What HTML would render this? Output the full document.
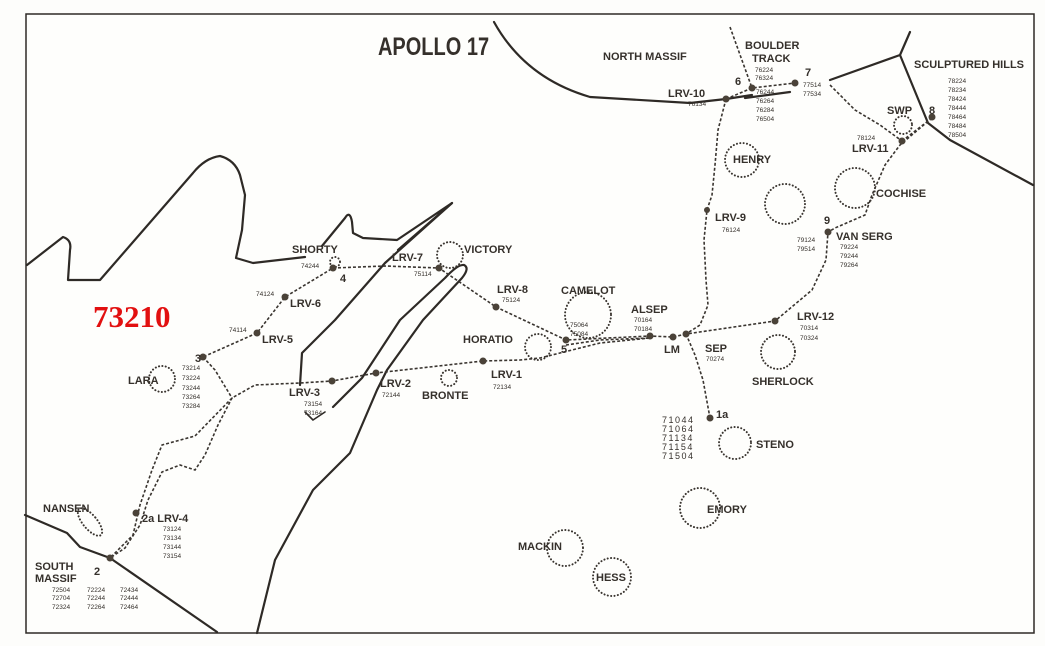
<!DOCTYPE html>
<html><head><meta charset="utf-8"><style>
html,body{margin:0;padding:0;background:#fdfdfb;}
svg{display:block}
text{font-family:"Liberation Sans",sans-serif;fill:#35302b;font-weight:bold}
.l{font-size:11px}
.s{font-size:6.5px;font-weight:normal}
.d{fill:none;stroke:#3a3530;stroke-width:1.6;stroke-dasharray:3 2}
.c{fill:none;stroke:#3a3530;stroke-width:2;stroke-dasharray:0.1 3.3;stroke-linecap:round}
.m{fill:none;stroke:#2e2a26;stroke-width:2.2;stroke-linejoin:round;stroke-linecap:round}
.p{fill:#4a4238}
</style></head><body>
<svg width="1045" height="646" viewBox="0 0 1045 646" xmlns="http://www.w3.org/2000/svg">
<rect x="26" y="14" width="1008" height="619" fill="#fefefc" stroke="#2e2a26" stroke-width="1.5"/>
<path class="m" d="M27,265 L63,237 Q72,240 70,250 L68,280 L100,280 L193,173 Q205,158 220,156 Q235,160 240,175 L245,195 L242,230 L236,258 L253,263 L305,257"/>
<path class="m" d="M322,246 L345,218 Q350,210 352,222 L353,233 L363,238 L397,240 L452,203 L398,250"/>
<path class="m" d="M452,203 L385,263 L335,320 L302,353 L300,385"/>
<path class="m" d="M333,407 L362,378 L400,320 L445,278 Q458,264 464,265 Q470,268 462,278 L423,320 L387,370 L377,390 L350,453 L313,490 L275,560 L257,633"/>
<path class="m" d="M25,515 L67,533 L80,547 L110,558 L217,632"/>
<path class="m" d="M494,22 Q525,78 590,97 L690,103 L726,99 L752,95"/>
<path class="m" d="M745,98 L790,92"/>
<path class="m" d="M830,80 L900,55 L910,32 M900,55 L928,123 L950,140 L1033,185"/>
<path class="d" d="M730,27 L752,88"/>
<path class="d" d="M726,99 L752,88 L795,83"/>
<path class="d" d="M830,85 L855,110 L880,125 L902,141"/>
<path class="d" d="M932,118 L902,141 M932,118 L900,145 L885,165 L872,195 L865,215 L835,228 L828,232 L826,260 L812,290 L775,321 L686,334"/>
<path class="d" d="M726,99 L718,130 L715,165 L712,195 L707,210 L704,240 L706,280 L708,305 L700,325 L686,334"/>
<path class="d" d="M686,334 L695,355 L703,380 L710,418"/>
<path class="d" d="M686,334 L673,337 L650,336 L566,340 L496,307 L439,268 L385,266 L333,268 L285,297 L257,333 L203,357"/>
<path class="d" d="M566,345 L600,340 L650,338"/>
<path class="d" d="M650,338 L600,343 L540,358 L520,360 L483,361 L376,373 L332,381 L300,383 L255,385 L232,398"/>
<path class="d" d="M203,357 L215,370 L232,398 L218,425 L205,455 L195,470 L180,465 L162,472 L148,500 L140,525 L125,548 L110,558"/>
<path class="d" d="M232,398 L195,436 L162,445 L152,470 L140,505 L133,535 L112,556"/>
<circle class="c" cx="742" cy="160" r="17"/>
<circle class="c" cx="855" cy="188" r="20"/>
<circle class="c" cx="785" cy="204" r="20"/>
<circle class="c" cx="903" cy="125" r="9"/>
<circle class="c" cx="450" cy="255" r="13"/>
<circle class="c" cx="335" cy="262" r="5"/>
<circle class="c" cx="588" cy="315" r="23"/>
<circle class="c" cx="538" cy="347" r="13"/>
<circle class="c" cx="449" cy="378" r="8"/>
<circle class="c" cx="162" cy="379" r="13"/>
<circle class="c" cx="778" cy="352" r="17"/>
<circle class="c" cx="735" cy="443" r="16"/>
<circle class="c" cx="700" cy="508" r="20"/>
<circle class="c" cx="565" cy="548" r="18"/>
<circle class="c" cx="612" cy="577" r="19"/>
<ellipse class="c" cx="90" cy="522" rx="7" ry="17" transform="rotate(-40 90 522)"/>
<path class="m" style="stroke-width:1.6" d="M305,412 L313,420 L325,412"/>
<g class="p">
<circle cx="752" cy="88" r="3.5"/><circle cx="795" cy="83" r="3.5"/><circle cx="726" cy="99" r="3.5"/>
<circle cx="902" cy="141" r="3.5"/><circle cx="932" cy="117" r="3.5"/><circle cx="828" cy="232" r="3.5"/>
<circle cx="707" cy="210" r="3"/><circle cx="775" cy="321" r="3.5"/><circle cx="686" cy="334" r="3.5"/>
<circle cx="673" cy="337" r="3.5"/><circle cx="650" cy="336" r="3.5"/><circle cx="566" cy="340" r="3.5"/>
<circle cx="496" cy="307" r="3.5"/><circle cx="439" cy="268" r="3.5"/><circle cx="333" cy="268" r="3.5"/>
<circle cx="285" cy="297" r="3.5"/><circle cx="257" cy="333" r="3.5"/><circle cx="203" cy="357" r="3.5"/>
<circle cx="332" cy="381" r="3.5"/><circle cx="376" cy="373" r="3.5"/><circle cx="483" cy="361" r="3.5"/>
<circle cx="136" cy="513" r="3.5"/><circle cx="110" cy="558" r="3.5"/><circle cx="710" cy="418" r="3.5"/>
</g>
<text x="378" y="55" style="font-size:25px" transform="translate(378 0) scale(0.8 1) translate(-378 0)">APOLLO 17</text>
<text x="93" y="327" style="font-family:'Liberation Serif',serif;font-size:31px;fill:#e21010">73210</text>
<text class="l" x="603" y="60">NORTH MASSIF</text>
<text class="l" x="745" y="49">BOULDER</text><text class="l" x="752" y="62">TRACK</text>
<text class="s" x="755" y="72">76224</text><text class="s" x="755" y="80">76324</text>
<text class="l" x="735" y="85">6</text><text class="l" x="805" y="76">7</text>
<text class="s" x="803" y="87">77514</text><text class="s" x="803" y="96">77534</text>
<text class="s" x="756" y="94">76244</text><text class="s" x="756" y="103">76264</text><text class="s" x="756" y="112">76284</text><text class="s" x="756" y="121">76504</text>
<text class="l" x="668" y="97">LRV-10</text><text class="s" x="688" y="106">76134</text>
<text class="l" x="914" y="68">SCULPTURED HILLS</text>
<text class="s" x="948" y="83">78224</text><text class="s" x="948" y="92">78234</text><text class="s" x="948" y="101">78424</text><text class="s" x="948" y="110">78444</text><text class="s" x="948" y="119">78464</text><text class="s" x="948" y="128">78484</text><text class="s" x="948" y="137">78504</text>
<text class="l" x="887" y="114">SWP</text><text class="l" x="929" y="114">8</text>
<text class="s" x="857" y="140">78124</text><text class="l" x="852" y="152">LRV-11</text>
<text class="l" x="733" y="163">HENRY</text>
<text class="l" x="876" y="197">COCHISE</text>
<text class="l" x="715" y="221">LRV-9</text><text class="s" x="722" y="232">76124</text>
<text class="l" x="824" y="224">9</text>
<text class="l" x="836" y="240">VAN SERG</text>
<text class="s" x="797" y="242">79124</text><text class="s" x="797" y="251">79514</text>
<text class="s" x="840" y="249">79224</text><text class="s" x="840" y="258">79244</text><text class="s" x="840" y="267">79264</text>
<text class="l" x="797" y="320">LRV-12</text><text class="s" x="800" y="330">70314</text><text class="s" x="800" y="340">70324</text>
<text class="l" x="752" y="385">SHERLOCK</text>
<text class="l" x="705" y="352">SEP</text><text class="s" x="706" y="361">70274</text>
<text class="l" x="664" y="353">LM</text>
<text class="l" x="631" y="313">ALSEP</text><text class="s" x="634" y="322">70164</text><text class="s" x="634" y="331">70184</text>
<text class="l" x="561" y="294">CAMELOT</text><text class="s" x="570" y="327">75064</text><text class="s" x="570" y="336">75084</text>
<text class="l" x="561" y="353">5</text>
<text class="l" x="497" y="293">LRV-8</text><text class="s" x="502" y="302">75124</text>
<text class="l" x="464" y="253">VICTORY</text>
<text class="l" x="392" y="261">LRV-7</text><text class="s" x="414" y="276">75114</text>
<text class="l" x="292" y="253">SHORTY</text><text class="s" x="301" y="268">74244</text><text class="l" x="340" y="282">4</text>
<text class="s" x="256" y="296">74124</text><text class="l" x="290" y="307">LRV-6</text>
<text class="s" x="229" y="332">74114</text><text class="l" x="262" y="343">LRV-5</text>
<text class="l" x="195" y="362">3</text>
<text class="s" x="182" y="370">73214</text><text class="s" x="182" y="380">73224</text><text class="s" x="182" y="390">73244</text><text class="s" x="182" y="399">73264</text><text class="s" x="182" y="408">73284</text>
<text class="l" x="128" y="384">LARA</text>
<text class="l" x="463" y="343">HORATIO</text>
<text class="l" x="289" y="396">LRV-3</text><text class="s" x="304" y="406">73154</text><text class="s" x="304" y="415">73164</text>
<text class="l" x="380" y="387">LRV-2</text><text class="s" x="382" y="397">72144</text>
<text class="l" x="422" y="399">BRONTE</text>
<text class="l" x="491" y="378">LRV-1</text><text class="s" x="493" y="389">72134</text>
<text class="l" x="716" y="418">1a</text>
<text x="662" y="423" style="font-size:9px;font-weight:normal;letter-spacing:1.5px">71044</text>
<text x="662" y="432" style="font-size:9px;font-weight:normal;letter-spacing:1.5px">71064</text>
<text x="662" y="441" style="font-size:9px;font-weight:normal;letter-spacing:1.5px">71134</text>
<text x="662" y="450" style="font-size:9px;font-weight:normal;letter-spacing:1.5px">71154</text>
<text x="662" y="459" style="font-size:9px;font-weight:normal;letter-spacing:1.5px">71504</text>
<text class="l" x="756" y="448">STENO</text>
<text class="l" x="707" y="513">EMORY</text>
<text class="l" x="518" y="550">MACKIN</text>
<text class="l" x="596" y="581">HESS</text>
<text class="l" x="43" y="512">NANSEN</text>
<text class="l" x="142" y="522">2a LRV-4</text>
<text class="s" x="163" y="531">73124</text><text class="s" x="163" y="540">73134</text><text class="s" x="163" y="549">73144</text><text class="s" x="163" y="558">73154</text>
<text class="l" x="35" y="570">SOUTH</text><text class="l" x="35" y="582">MASSIF</text>
<text class="l" x="94" y="575">2</text>
<text class="s" x="52" y="592">72504</text><text class="s" x="52" y="600">72704</text><text class="s" x="52" y="609">72324</text>
<text class="s" x="87" y="592">72224</text><text class="s" x="87" y="600">72244</text><text class="s" x="87" y="609">72264</text>
<text class="s" x="120" y="592">72434</text><text class="s" x="120" y="600">72444</text><text class="s" x="120" y="609">72464</text>
</svg>
</body></html>
